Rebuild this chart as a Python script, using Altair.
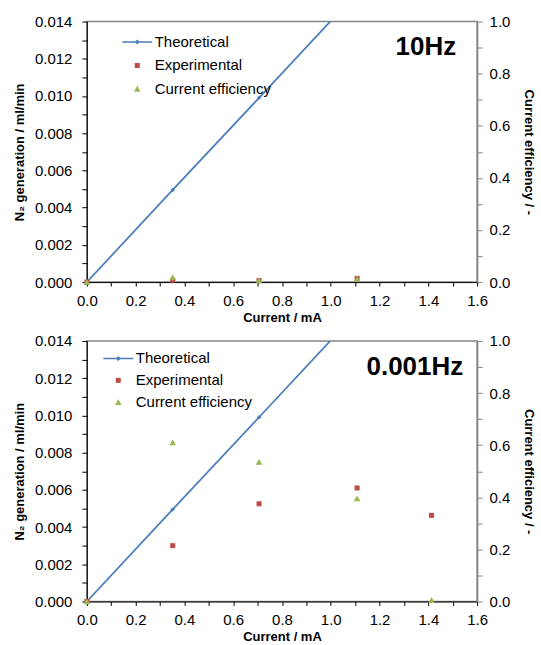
import altair as alt
import pandas as pd

# ---------------- data ----------------
series_names = ["Theoretical", "Experimental", "Current efficiency"]
series_colors = ["#4A7EBB", "#BE4B48", "#98B954"]

theo_current = [0.0, 0.352, 0.706, 1.108, 1.413]
theo_n2 = [0.0, 0.00495, 0.0099, 0.01555, 0.0198]

hz10_current = [0.0, 0.352, 0.706, 1.108]
hz10_exp = [0.0, 0.0001, 0.00008, 0.0002]
hz10_ce = [0.0, 0.018, 0.006, 0.012]

hz0001_current = [0.0, 0.352, 0.706, 1.108, 1.413]
hz0001_exp = [0.0, 0.0030, 0.00525, 0.0061, 0.00463]
hz0001_ce = [0.0, 0.61, 0.535, 0.395, 0.005]

panel_labels = ["10Hz", "0.001Hz"]

x_ticks = [0.0, 0.1, 0.2, 0.3, 0.4, 0.5, 0.6, 0.7, 0.8, 0.9, 1.0,
           1.1, 1.2, 1.3, 1.4, 1.5, 1.6]
left_ticks = [0.0, 0.001, 0.002, 0.003, 0.004, 0.005, 0.006, 0.007,
              0.008, 0.009, 0.010, 0.011, 0.012, 0.013, 0.014]
right_ticks = [0.0, 0.1, 0.2, 0.3, 0.4, 0.5, 0.6, 0.7, 0.8, 0.9, 1.0]

# legend / marker symbol paths (unit = sqrt(size)/2 px)
shape_paths = [
    "M-3,-0.16H3V0.16H-3Z M0,-0.5L0.5,0L0,0.5L-0.5,0Z",
    "M-0.5,-0.5H0.5V0.5H-0.5Z",
    "M0,-0.62L0.66,0.55L-0.66,0.55Z",
]

W, H = 391, 261


def panel(current, exp, ce, label, legend_x, legend_y, row_pad,
          text_x, text_y):
    theo_df = pd.DataFrame({"current": theo_current, "value": theo_n2,
                            "series": "Theoretical"})
    exp_df = pd.DataFrame({"current": current, "value": exp,
                           "series": "Experimental"})
    ce_df = pd.DataFrame({"current": current, "value": ce,
                          "series": "Current efficiency"})
    lab_df = pd.DataFrame({"label": [label]})

    xs = alt.Scale(domain=[0, 1.6], nice=False, zero=False)
    ys_l = alt.Scale(domain=[0, 0.014], nice=False)
    ys_r = alt.Scale(domain=[0, 1.0], nice=False)

    x_axis = alt.Axis(
        values=x_ticks, title="Current / mA",
        labelExpr="round(datum.value*10) % 2 == 0 ? format(datum.value, '.1f') : ''",
        labelOverlap=False, labelFlush=False, tickSize=4, labelPadding=7,
        domainColor="#000000", tickColor="#000000", titlePadding=3,
    )
    yl_axis = alt.Axis(
        values=left_ticks, title="N\u2082 generation / ml/min", orient="left",
        labelExpr="round(datum.value*1000) % 2 == 0 ? format(datum.value, '.3f') : ''",
        labelOverlap=False, labelFlush=False, tickSize=5, labelPadding=10,
        domainColor="#000000", tickColor="#000000", titlePadding=8,
    )
    yr_axis = alt.Axis(
        values=right_ticks, title="Current efficiency / -", orient="right",
        labelExpr="round(datum.value*10) % 2 == 0 ? format(datum.value, '.1f') : ''",
        labelOverlap=False, labelFlush=False, tickSize=5, labelPadding=7,
        domainColor="#868686", tickColor="#868686", domainWidth=1.5,
        titlePadding=12,
    )

    leg = alt.Legend(title=None, orient="none", legendX=legend_x,
                     legendY=legend_y, labelFontSize=15, labelOffset=10,
                     rowPadding=row_pad, padding=0, symbolSize=100,
                     labelColor="#000000", symbolStrokeWidth=0)
    color = alt.Color("series:N",
                      scale=alt.Scale(domain=series_names, range=series_colors),
                      legend=leg)
    shape = alt.Shape("series:N",
                      scale=alt.Scale(domain=series_names, range=shape_paths),
                      legend=leg)

    X = alt.X("current:Q", scale=xs, axis=x_axis)
    YL = alt.Y("value:Q", scale=ys_l, axis=yl_axis)

    line = alt.Chart(theo_df).mark_line(clip=True, color=series_colors[0],
                                        strokeWidth=1.75).encode(x=X, y=YL)
    pts = alt.Chart(theo_df).mark_point(
        shape="diamond", filled=True, size=20, opacity=1,
        color=series_colors[0]).encode(x=X, y=YL).transform_filter(
        "datum.value <= 0.014")
    exp_pts = alt.Chart(exp_df).mark_point(filled=True, size=100,
                                           opacity=1).encode(
        x=X, y=YL, color=color, shape=shape)
    ce_pts = alt.Chart(ce_df).mark_point(filled=True, size=100,
                                         opacity=1).encode(
        x=X, y=alt.Y("value:Q", scale=ys_r, axis=yr_axis),
        color=color, shape=shape)
    txt = alt.Chart(lab_df).mark_text(
        align="right", baseline="alphabetic", fontSize=26,
        fontWeight="bold", color="#000000").encode(
        x=alt.value(text_x), y=alt.value(text_y), text="label:N")

    left = alt.layer(line, pts, exp_pts)
    return alt.layer(left, ce_pts, txt).resolve_scale(
        y="independent").properties(width=W, height=H)


top = panel(hz10_current, hz10_exp, hz10_ce, panel_labels[0],
            43, 13, 7.5, 370, 33)
bottom = panel(hz0001_current, hz0001_exp, hz0001_ce, panel_labels[1],
               24, 10, 6, 377, 34)

chart = alt.vconcat(top, bottom, spacing=8).resolve_scale(
    color="independent", shape="independent"
).resolve_legend(
    color="independent", shape="independent"
).configure(
    font="Liberation Sans",
    padding={"left": 12, "top": 13, "right": 5, "bottom": 5},
    background="#ffffff",
).configure_view(
    stroke="#868686", strokeWidth=1.5
).configure_axis(
    labelFont="Liberation Sans", labelFontSize=15, labelColor="#000000",
    titleFont="Liberation Sans", titleFontSize=13, titleFontWeight="bold",
    titleColor="#000000", grid=False,
)

chart.save("out.html", embed_options={"renderer": "svg", "actions": False})
